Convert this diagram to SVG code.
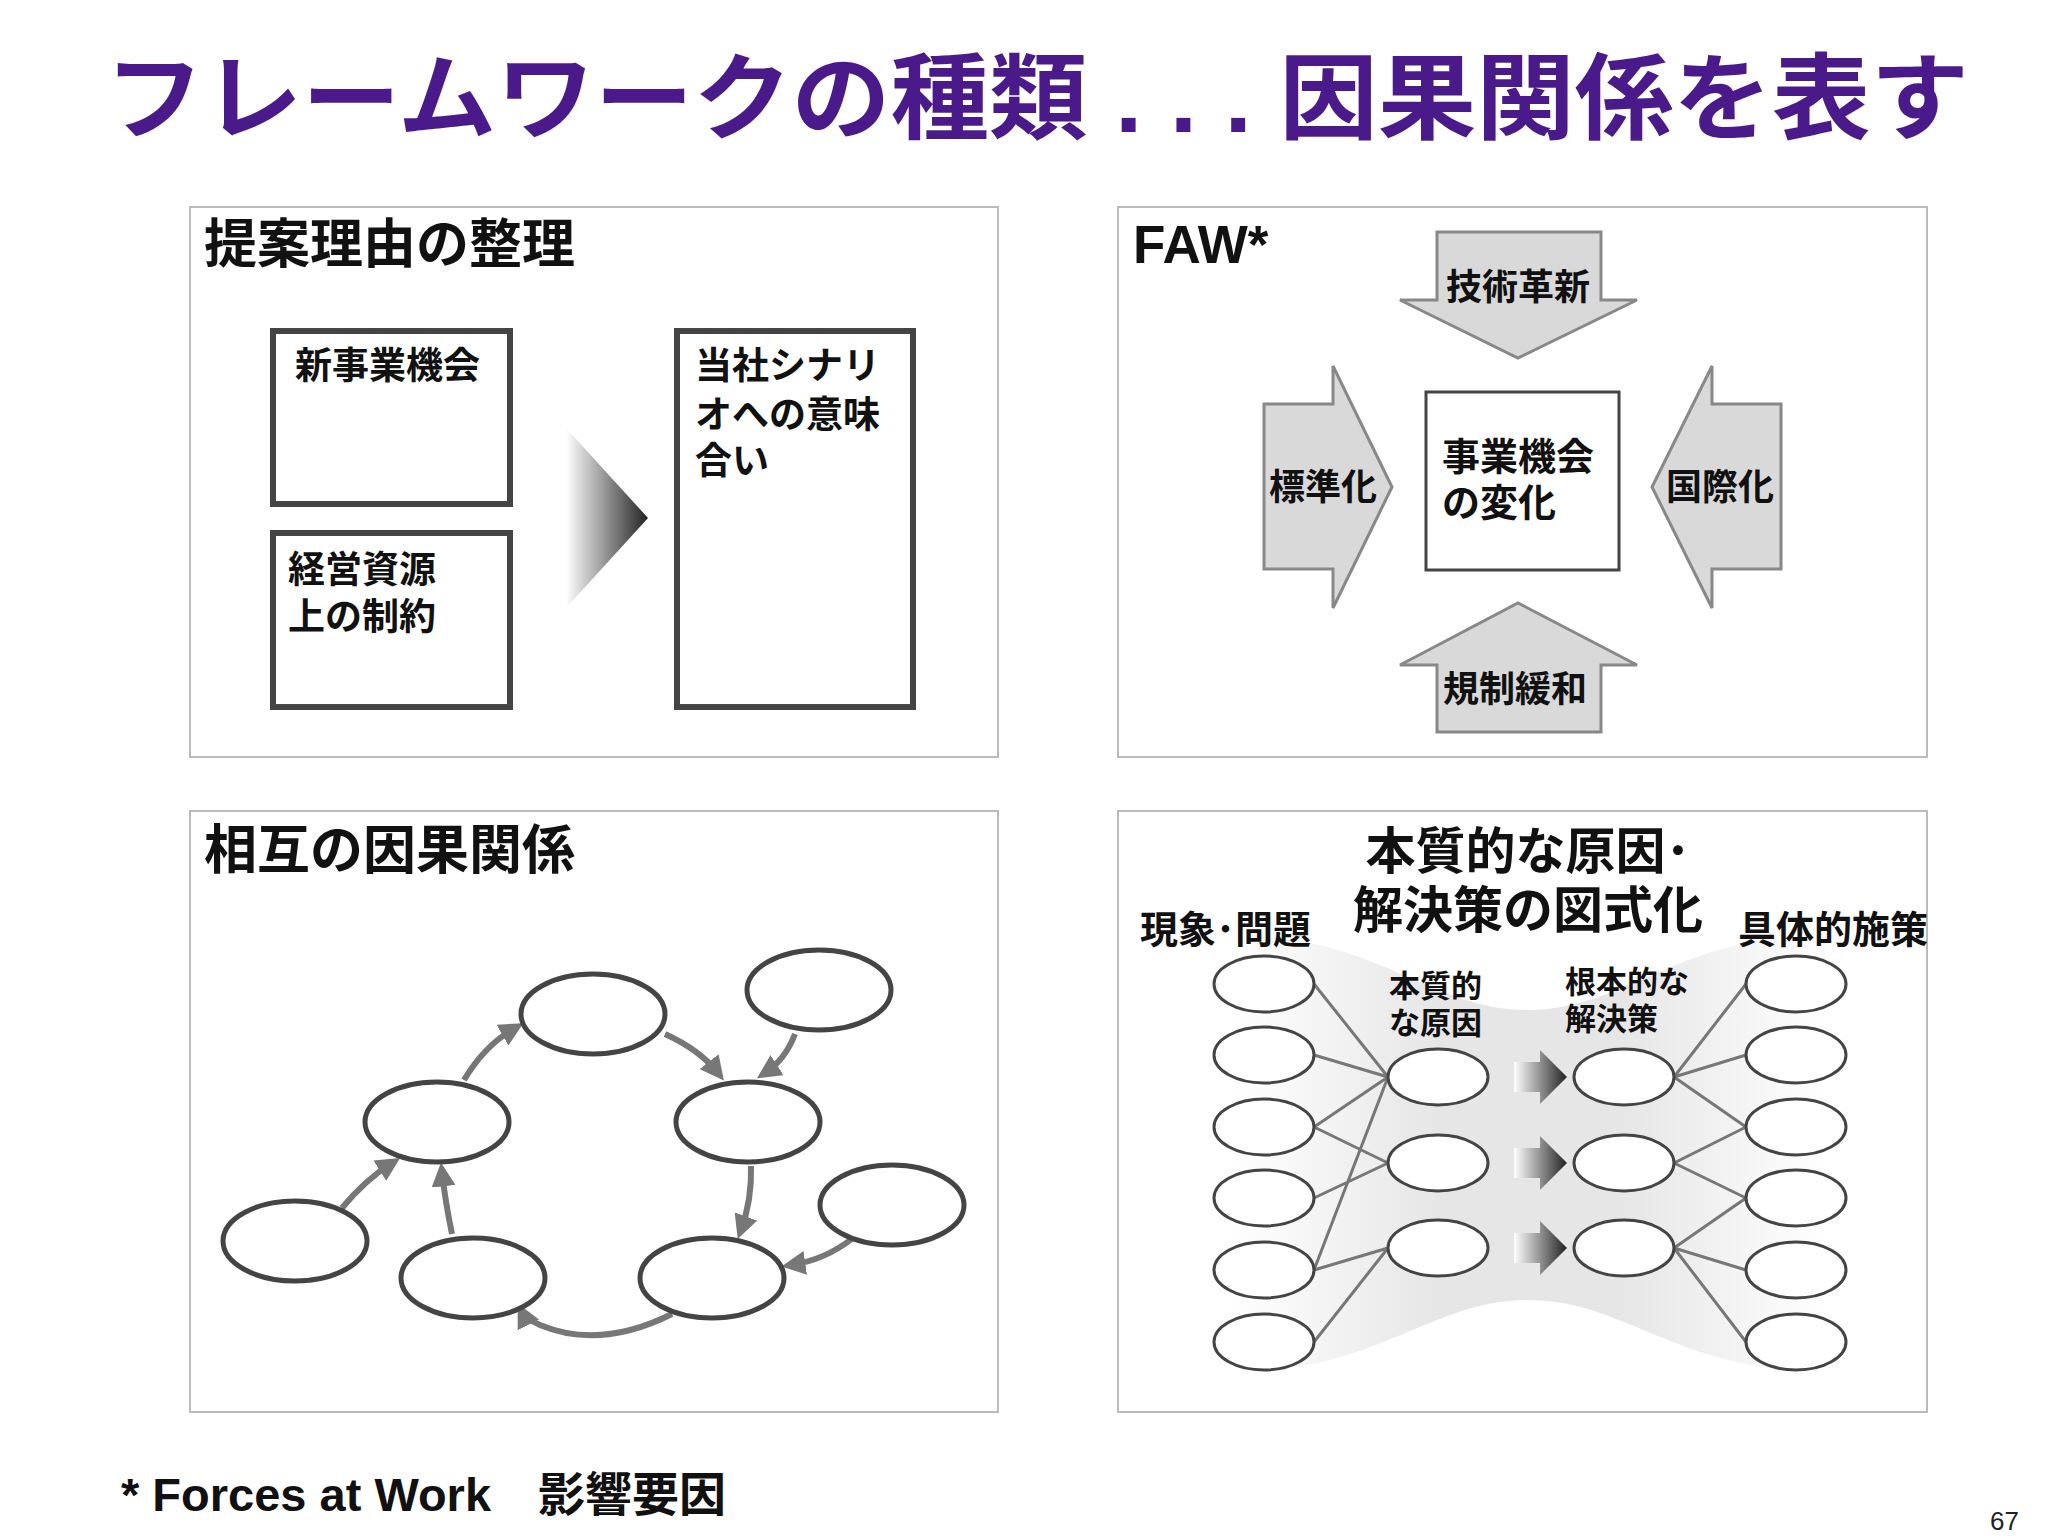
<svg xmlns="http://www.w3.org/2000/svg" width="2048" height="1536" viewBox="0 0 2048 1536">
<defs>
<style>
.t{font-family:"Liberation Sans","Noto Sans CJK JP",sans-serif;font-weight:bold;fill:#111}
.panel{fill:#fff;stroke:#bbb;stroke-width:2}
.box{fill:#fff;stroke:#444;stroke-width:6}
.ar{fill:#d9d9d9;stroke:#888;stroke-width:3}
.el{fill:#fff;stroke:#444;stroke-width:5}
.es{fill:#fff;stroke:#444;stroke-width:3}
.ln{stroke:#777;stroke-width:3;fill:none}
.ca{stroke:#777;stroke-width:6;fill:none;marker-end:url(#ah)}
</style>
<marker id="ah" viewBox="0 0 10 10" refX="6" refY="5" markerWidth="4" markerHeight="4" orient="auto"><path d="M0,0L10,5L0,10z" fill="#777"/></marker>
<linearGradient id="g1" x1="0" y1="0" x2="1" y2="0"><stop offset="0" stop-color="#fff"/><stop offset="1" stop-color="#222"/></linearGradient>
<linearGradient id="g2" x1="0" y1="0" x2="1" y2="0"><stop offset="0" stop-color="#fff"/><stop offset="0.35" stop-color="#e6e6e6"/><stop offset="0.65" stop-color="#e6e6e6"/><stop offset="1" stop-color="#fff"/></linearGradient>
</defs>
<rect width="2048" height="1536" fill="#fff"/>
<text class="t" x="105" y="132" font-size="94" style="fill:#4b1a8a" textLength="1864" lengthAdjust="spacingAndGlyphs">フレームワークの種類 . . . 因果関係を表す</text>

<g id="panel1">
<rect class="panel" x="190" y="207" width="808" height="550"/>
<text class="t" x="204" y="263" font-size="53">提案理由の整理</text>
<rect class="box" x="273" y="331" width="237" height="173"/>
<text class="t" x="295" y="379" font-size="37">新事業機会</text>
<rect class="box" x="273" y="533" width="237" height="174"/>
<text class="t" x="288" y="583" font-size="37">経営資源</text>
<text class="t" x="288" y="630" font-size="37">上の制約</text>
<rect class="box" x="677" y="331" width="236" height="376"/>
<text class="t" x="695" y="379" font-size="37">当社シナリ</text>
<text class="t" x="695" y="428" font-size="37">オへの意味</text>
<text class="t" x="695" y="474" font-size="37">合い</text>
<path d="M566,428L648,518L566,608z" fill="url(#g1)"/>
</g>

<g id="panel2">
<rect class="panel" x="1118" y="207" width="809" height="550"/>
<text class="t" x="1133" y="263" font-size="53">FAW*</text>
<path class="ar" d="M1437,232H1601V300H1637L1518,358L1400,300H1437z"/>
<text class="t" x="1518" y="300" font-size="36" text-anchor="middle">技術革新</text>
<path class="ar" d="M1437,732H1601V665H1637L1518,603L1400,665H1437z"/>
<text class="t" x="1515" y="702" font-size="36" text-anchor="middle">規制緩和</text>
<path class="ar" d="M1264,404H1333V366L1392,487L1333,608V569H1264z"/>
<text class="t" x="1323" y="500" font-size="36" text-anchor="middle">標準化</text>
<path class="ar" d="M1781,404H1712V366L1652,487L1712,608V569H1781z"/>
<text class="t" x="1720" y="500" font-size="36" text-anchor="middle">国際化</text>
<rect x="1426" y="392" width="193" height="178" fill="#fff" stroke="#444" stroke-width="3"/>
<text class="t" x="1442" y="470" font-size="38">事業機会</text>
<text class="t" x="1442" y="516" font-size="38">の変化</text>
</g>

<g id="panel3">
<rect class="panel" x="190" y="811" width="808" height="601"/>
<text class="t" x="204" y="869" font-size="53">相互の因果関係</text>
<g id="connectors3">
<path class="ca" d="M342,1208Q365,1180 392,1163"/>
<path class="ca" d="M452,1234Q445,1200 442,1172"/>
<path class="ca" d="M464,1080Q485,1045 515,1028"/>
<path class="ca" d="M665,1034Q700,1050 718,1073"/>
<path class="ca" d="M795,1034Q785,1060 765,1073"/>
<path class="ca" d="M751,1166Q752,1200 741,1230"/>
<path class="ca" d="M853,1238Q825,1260 791,1265"/>
<path class="ca" d="M672,1314Q600,1350 540,1325Q525,1318 522,1312"/>
</g>
<ellipse class="el" cx="593" cy="1014" rx="72" ry="40"/>
<ellipse class="el" cx="819" cy="990" rx="72" ry="40"/>
<ellipse class="el" cx="437" cy="1122" rx="72" ry="40"/>
<ellipse class="el" cx="748" cy="1122" rx="72" ry="40"/>
<ellipse class="el" cx="295" cy="1241" rx="72" ry="40"/>
<ellipse class="el" cx="473" cy="1278" rx="72" ry="40"/>
<ellipse class="el" cx="712" cy="1278" rx="72" ry="40"/>
<ellipse class="el" cx="892" cy="1205" rx="72" ry="40"/>
</g>

<g id="panel4">
<rect class="panel" x="1118" y="811" width="809" height="601"/>
<path d="M1230,935C1380,935 1430,1010 1528,1010C1626,1010 1676,935 1830,935V1372C1676,1372 1626,1300 1528,1300C1430,1300 1380,1372 1230,1372z" fill="url(#g2)"/>
<text class="t" x="1528" y="869" font-size="50" text-anchor="middle">本質的な原因･</text>
<text class="t" x="1528" y="928" font-size="50" text-anchor="middle">解決策の図式化</text>
<text class="t" x="1140" y="943" font-size="38">現象･問題</text>
<text class="t" x="1738" y="943" font-size="38">具体的施策</text>
<text class="t" x="1389" y="997" font-size="31">本質的</text>
<text class="t" x="1389" y="1034" font-size="31">な原因</text>
<text class="t" x="1565" y="993" font-size="31">根本的な</text>
<text class="t" x="1565" y="1030" font-size="31">解決策</text>
<g id="connectors4">
<path class="ln" d="M1314,984L1388,1077M1314,1055L1388,1077M1314,1127L1388,1077M1314,1127L1388,1163M1314,1198L1388,1163M1314,1270L1388,1077M1314,1270L1388,1248M1314,1342L1388,1248"/>
<path class="ln" d="M1674,1077L1746,984M1674,1077L1746,1055M1674,1077L1746,1127M1674,1163L1746,1127M1674,1163L1746,1198M1674,1248L1746,1198M1674,1248L1746,1270M1674,1248L1746,1342"/>
<path d="M1514,1062H1540V1050L1567,1077L1540,1104V1092H1514z" fill="url(#g1)"/>
<path d="M1514,1148H1540V1136L1567,1163L1540,1190V1178H1514z" fill="url(#g1)"/>
<path d="M1514,1233H1540V1221L1567,1248L1540,1275V1263H1514z" fill="url(#g1)"/>
</g>
<ellipse class="es" cx="1264" cy="984" rx="50" ry="28"/>
<ellipse class="es" cx="1264" cy="1055" rx="50" ry="28"/>
<ellipse class="es" cx="1264" cy="1127" rx="50" ry="28"/>
<ellipse class="es" cx="1264" cy="1198" rx="50" ry="28"/>
<ellipse class="es" cx="1264" cy="1270" rx="50" ry="28"/>
<ellipse class="es" cx="1264" cy="1342" rx="50" ry="28"/>
<ellipse class="es" cx="1438" cy="1077" rx="50" ry="28"/>
<ellipse class="es" cx="1438" cy="1163" rx="50" ry="28"/>
<ellipse class="es" cx="1438" cy="1248" rx="50" ry="28"/>
<ellipse class="es" cx="1624" cy="1077" rx="50" ry="28"/>
<ellipse class="es" cx="1624" cy="1163" rx="50" ry="28"/>
<ellipse class="es" cx="1624" cy="1248" rx="50" ry="28"/>
<ellipse class="es" cx="1796" cy="984" rx="50" ry="28"/>
<ellipse class="es" cx="1796" cy="1055" rx="50" ry="28"/>
<ellipse class="es" cx="1796" cy="1127" rx="50" ry="28"/>
<ellipse class="es" cx="1796" cy="1198" rx="50" ry="28"/>
<ellipse class="es" cx="1796" cy="1270" rx="50" ry="28"/>
<ellipse class="es" cx="1796" cy="1342" rx="50" ry="28"/>
</g>

<text class="t" x="121" y="1511" font-size="47">* Forces at Work　影響要因</text>
<text x="1990" y="1530" font-size="26" font-family="Liberation Sans,sans-serif" fill="#222">67</text>
</svg>
